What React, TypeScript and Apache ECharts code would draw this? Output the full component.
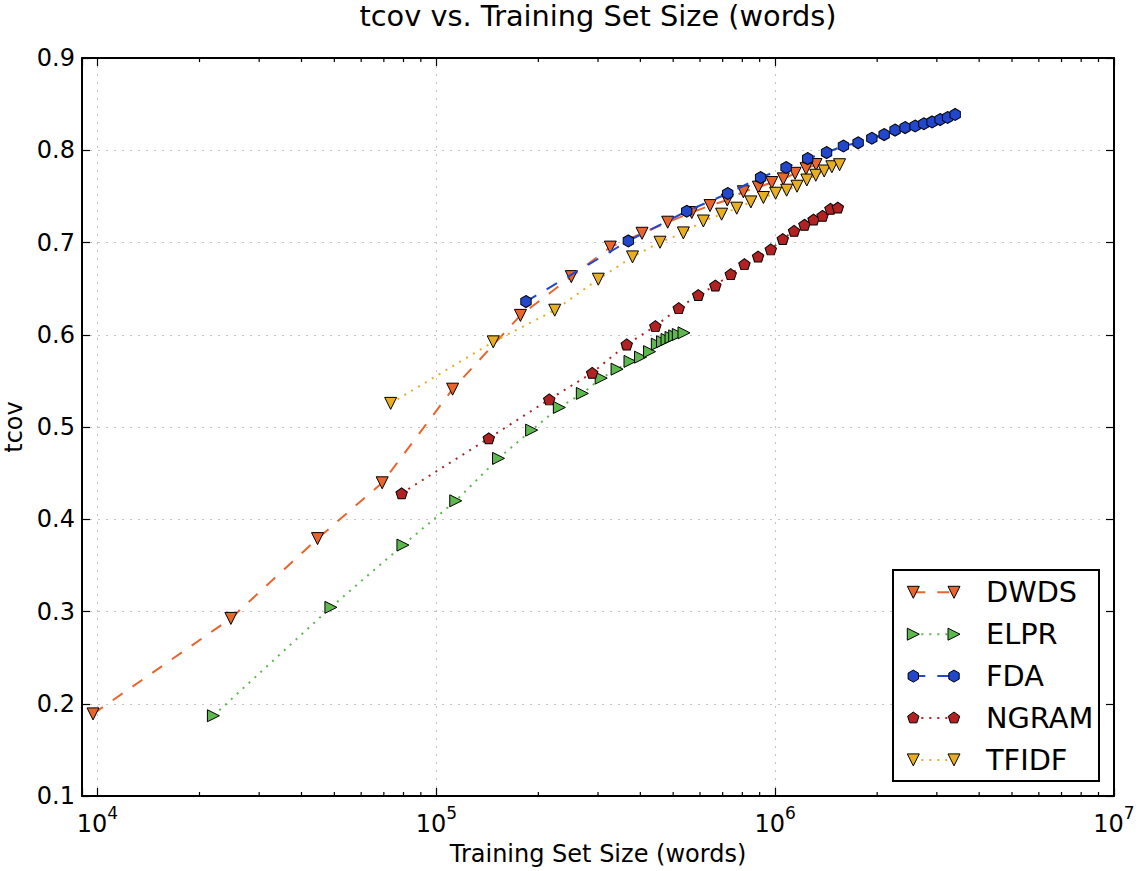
import React, { useEffect, useRef } from 'react';
import * as echarts from 'echarts';

const FONT = '"DejaVu Sans", "Liberation Sans", sans-serif';

const SERIES_NAMES = ['DWDS', 'ELPR', 'FDA', 'NGRAM', 'TFIDF'];
const SERIES_COLORS = ['#E8652B', '#5DB84E', '#2147CC', '#B22222', '#E8AE22'];

const DWDS_X = [9700, 24750, 44600, 69200, 111700, 177100, 250200, 326200, 404600, 481800, 567300, 642300, 722500, 805600, 892100, 977200, 1057000, 1145000, 1234000, 1320000];
const DWDS_Y = [0.189, 0.2925, 0.379, 0.4395, 0.541, 0.621, 0.663, 0.695, 0.71, 0.722, 0.7325, 0.74, 0.746, 0.755, 0.76, 0.765, 0.769, 0.775, 0.78, 0.7845];

const ELPR_X = [21980, 48850, 79700, 114100, 152600, 191100, 230700, 269700, 306600, 341500, 372900, 400500, 425900, 449000, 465100, 479600, 492800, 505300, 517800, 538300];
const ELPR_Y = [0.187, 0.3045, 0.372, 0.42, 0.466, 0.4966, 0.5212, 0.5364, 0.553, 0.5627, 0.5711, 0.5757, 0.5817, 0.5898, 0.5925, 0.5949, 0.5971, 0.5988, 0.6003, 0.6021];

const FDA_X = [183900, 368700, 548200, 724500, 905600, 1077000, 1247000, 1418000, 1590000, 1757000, 1929000, 2097000, 2259000, 2418000, 2589000, 2747000, 2905000, 3068000, 3228000, 3398000];
const FDA_Y = [0.636, 0.7017, 0.7339, 0.7531, 0.7704, 0.7813, 0.791, 0.7975, 0.8046, 0.8081, 0.813, 0.817, 0.8219, 0.8246, 0.8263, 0.8287, 0.8307, 0.8333, 0.8355, 0.8388];

const NGRAM_X = [78990, 142800, 215400, 288400, 364700, 443000, 519300, 592900, 666000, 739400, 811400, 890300, 970500, 1053000, 1137000, 1220000, 1298000, 1380000, 1456000, 1531000];
const NGRAM_Y = [0.4281, 0.4878, 0.5299, 0.5587, 0.5895, 0.6093, 0.6288, 0.6431, 0.6534, 0.6657, 0.6765, 0.6848, 0.6925, 0.7038, 0.7126, 0.7193, 0.7249, 0.729, 0.7366, 0.7379];

const TFIDF_X = [73310, 147200, 223600, 300600, 379300, 457200, 535800, 613800, 694900, 770200, 847800, 923000, 1003000, 1081000, 1160000, 1240000, 1318000, 1395000, 1470000, 1549000];
const TFIDF_Y = [0.5256, 0.5923, 0.6266, 0.6602, 0.6844, 0.7003, 0.7104, 0.7233, 0.7307, 0.7372, 0.744, 0.7488, 0.7534, 0.7567, 0.761, 0.7677, 0.7729, 0.7775, 0.7821, 0.7843];

const X_MIN = 9000;
const X_MAX = 1e7;
const Y_MIN = 0.1;
const Y_MAX = 0.9;
const Y_STEP = 0.1;
const MINOR_DECADES = [1e4, 1e5, 1e6];
const MINOR_MULTS = [2, 3, 4, 5, 6, 7, 8, 9];

const TITLE = 'tcov vs. Training Set Size (words)';
const X_NAME = 'Training Set Size (words)';
const Y_NAME = 'tcov';

type Kind = 'triDown' | 'triRight' | 'hex' | 'pent';
const KINDS: Kind[] = ['triDown', 'triRight', 'hex', 'pent', 'triDown'];
const DASHES: (number[])[] = [[12, 12], [2, 6], [12, 12], [2, 6], [2, 6]];

function zip(xs: number[], ys: number[]) {
  return xs.map((x, i) => [x, ys[i]]);
}

const HEX_PATH = 'path://M0,-6L5.196,-3L5.196,3L0,6L-5.196,3L-5.196,-3Z';
const PENT_PATH = 'path://M0,-6L5.706,-1.854L3.527,4.854L-3.527,4.854L-5.706,-1.854Z';

function symbolFor(kind: Kind) {
  switch (kind) {
    case 'triDown':
      return { symbol: 'triangle', symbolRotate: 180, symbolSize: 12 };
    case 'triRight':
      return { symbol: 'triangle', symbolRotate: -90, symbolSize: 12 };
    case 'hex':
      return { symbol: HEX_PATH, symbolRotate: 0, symbolSize: [10.4, 12] };
    default:
      return { symbol: PENT_PATH, symbolRotate: 0, symbolSize: [11.4, 10.9] };
  }
}

function legendMarker(kind: Kind, cx: number, cy: number, color: string) {
  let pts: number[][] = [];
  if (kind === 'triDown') pts = [[cx - 6, cy - 6], [cx + 6, cy - 6], [cx, cy + 6]];
  else if (kind === 'triRight') pts = [[cx - 6, cy - 6], [cx + 6, cy], [cx - 6, cy + 6]];
  else {
    const n = kind === 'hex' ? 6 : 5;
    for (let k = 0; k < n; k++) {
      const a = -Math.PI / 2 + (2 * Math.PI * k) / n;
      pts.push([cx + 6 * Math.cos(a), cy + 6 * Math.sin(a)]);
    }
  }
  return {
    type: 'polygon',
    z: 102,
    shape: { points: pts },
    style: { fill: color, stroke: '#000', lineWidth: 1 },
  };
}

function superLabel(v: number) {
  const e = Math.log10(v);
  const r = Math.round(e);
  if (Math.abs(e - r) > 1e-6) return '';
  return `{b|10}{s|${r}}`;
}

export default function App() {
  const ref = useRef<HTMLDivElement>(null);

  useEffect(() => {
    if (!ref.current) return;
    const chart = echarts.init(ref.current, null, { renderer: 'svg' });

    const dataSets = [
      zip(DWDS_X, DWDS_Y),
      zip(ELPR_X, ELPR_Y),
      zip(FDA_X, FDA_Y),
      zip(NGRAM_X, NGRAM_Y),
      zip(TFIDF_X, TFIDF_Y),
    ];

    const minorTicks: number[][] = [];
    MINOR_DECADES.forEach((d) => MINOR_MULTS.forEach((m) => minorTicks.push([m * d, Y_MIN])));

    const lineSeries = SERIES_NAMES.map((name, i) => ({
      name,
      type: 'line',
      data: dataSets[i],
      xAxisIndex: 0,
      yAxisIndex: 0,
      ...symbolFor(KINDS[i]),
      showSymbol: true,
      showAllSymbol: true,
      silent: true,
      z: 3 + i,
      lineStyle: { color: SERIES_COLORS[i], width: 2, type: DASHES[i] },
      itemStyle: { color: SERIES_COLORS[i], borderColor: '#000', borderWidth: 1 },
      emphasis: { disabled: true },
    }));

    const gridLine = { show: true, lineStyle: { color: '#c4c4c4', width: 1, type: [2, 6] } };
    const axisLine = { show: true, onZero: false, lineStyle: { color: '#000', width: 2 } };
    const majorTick = { show: true, inside: true, length: 8, lineStyle: { color: '#000', width: 1.2 } };

    const legendTop = 570;
    const legendLeft = 893;
    const rowY0 = 592.3;
    const rowStep = 41.9;
    const legendChildren: any[] = [
      {
        type: 'rect',
        z: 100,
        shape: { x: legendLeft, y: legendTop, width: 206, height: 211 },
        style: { fill: '#fff', stroke: '#000', lineWidth: 2 },
      },
    ];
    SERIES_NAMES.forEach((name, i) => {
      const cy = rowY0 + i * rowStep;
      legendChildren.push({
        type: 'line',
        z: 101,
        shape: { x1: 913.3, y1: cy, x2: 954, y2: cy },
        style: { stroke: SERIES_COLORS[i], lineWidth: 2, lineDash: DASHES[i] },
      });
      legendChildren.push(legendMarker(KINDS[i], 913.3, cy, SERIES_COLORS[i]));
      legendChildren.push(legendMarker(KINDS[i], 954, cy, SERIES_COLORS[i]));
      legendChildren.push({
        type: 'text',
        z: 102,
        x: 986,
        y: cy,
        style: {
          text: name,
          fontSize: 28.8,
          fontFamily: FONT,
          fill: '#000',
          align: 'left',
          verticalAlign: 'middle',
        },
      });
    });

    const option: any = {
      animation: false,
      backgroundColor: '#fff',
      textStyle: { fontFamily: FONT },
      grid: {
        left: 82,
        right: 26,
        top: 58,
        bottom: 75,
        containLabel: false,
        outerBoundsMode: 'none',
      },
      graphic: [
        {
          type: 'text',
          x: 598,
          y: 16,
          z: 100,
          style: {
            text: TITLE,
            fontSize: 28.8,
            fontFamily: FONT,
            fill: '#000',
            align: 'center',
            verticalAlign: 'middle',
          },
        },
        ...legendChildren,
      ],
      xAxis: [
        {
          type: 'log',
          logBase: 10,
          min: X_MIN,
          max: X_MAX,
          position: 'bottom',
          name: X_NAME,
          nameLocation: 'middle',
          nameGap: 46,
          nameTextStyle: { fontSize: 24, fontFamily: FONT, color: '#000' },
          axisLine,
          axisTick: majorTick,
          splitLine: gridLine,
          minorTick: { show: false },
          axisLabel: {
            show: true,
            margin: 8,
            color: '#000',
            formatter: superLabel,
            rich: {
              b: { fontSize: 24, lineHeight: 32, verticalAlign: 'bottom', fontFamily: FONT, color: '#000' },
              s: { fontSize: 17, lineHeight: 17, verticalAlign: 'top', fontFamily: FONT, color: '#000' },
            },
          },
        },
        {
          type: 'log',
          logBase: 10,
          min: X_MIN,
          max: X_MAX,
          position: 'top',
          axisLine,
          axisTick: majorTick,
          axisLabel: { show: false },
          splitLine: { show: false },
        },
      ],
      yAxis: [
        {
          type: 'value',
          min: Y_MIN,
          max: Y_MAX,
          interval: Y_STEP,
          position: 'left',
          name: Y_NAME,
          nameLocation: 'middle',
          nameRotate: 90,
          nameGap: 48,
          nameTextStyle: { fontSize: 24, fontFamily: FONT, color: '#000' },
          axisLine,
          axisTick: majorTick,
          splitLine: gridLine,
          axisLabel: {
            show: true,
            margin: 7,
            fontSize: 24,
            fontFamily: FONT,
            color: '#000',
            formatter: (v: number) => v.toFixed(1),
          },
        },
        {
          type: 'value',
          min: Y_MIN,
          max: Y_MAX,
          interval: Y_STEP,
          position: 'right',
          axisLine,
          axisTick: majorTick,
          axisLabel: { show: false },
          splitLine: { show: false },
        },
      ],
      series: [
        {
          type: 'custom',
          name: 'minorTicks',
          xAxisIndex: 0,
          yAxisIndex: 0,
          silent: true,
          z: 10,
          data: minorTicks,
          renderItem: (params: any, api: any) => {
            const x = api.value(0);
            const b = api.coord([x, Y_MIN]);
            const t = api.coord([x, Y_MAX]);
            const st = { stroke: '#000', lineWidth: 1.2 };
            return {
              type: 'group',
              children: [
                { type: 'line', shape: { x1: b[0], y1: b[1], x2: b[0], y2: b[1] - 4 }, style: st },
                { type: 'line', shape: { x1: t[0], y1: t[1], x2: t[0], y2: t[1] + 4 }, style: st },
              ],
            };
          },
        },
        ...lineSeries,
      ],
    };

    chart.setOption(option);
    return () => chart.dispose();
  }, []);

  return (
    <div
      ref={ref}
      style={{ position: 'absolute', left: 0, top: 0, width: 1140, height: 871 }}
    />
  );
}
